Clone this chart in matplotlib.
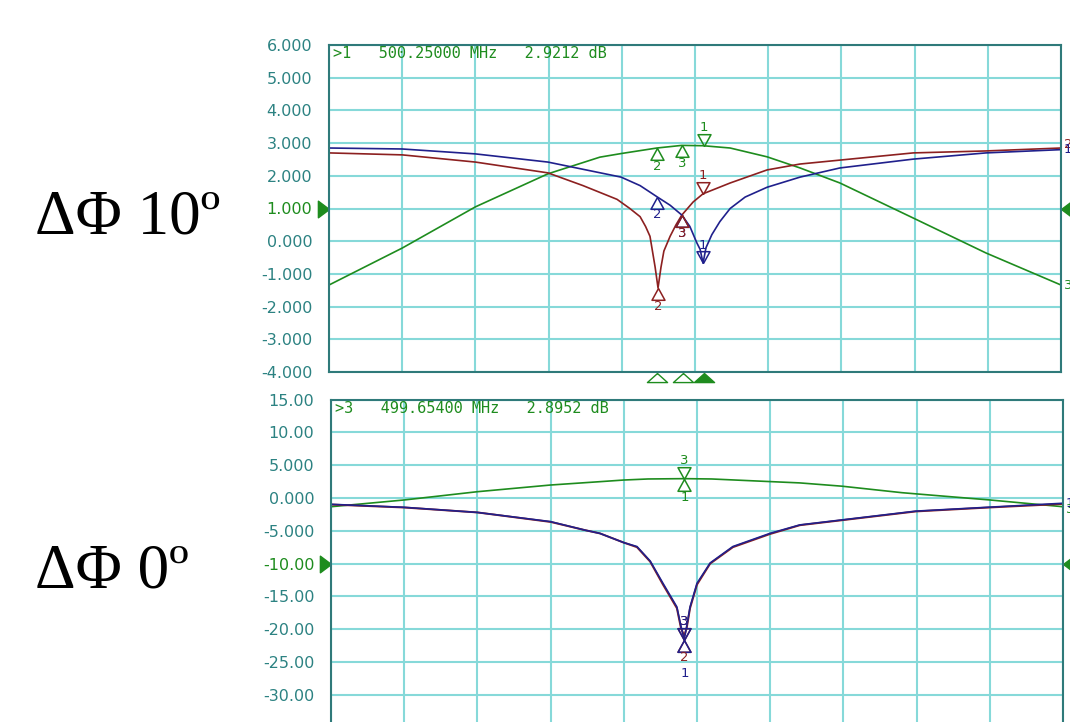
import numpy as np
import matplotlib
matplotlib.use("Agg")
import matplotlib.pyplot as plt
from matplotlib.path import Path

# --- data (MHz, dB) ---

# top screen: phase difference 10 deg
TOP_BLUE_F = [490.0, 492.0, 494.0, 495.98, 497.98, 498.5, 498.96, 499.32, 499.64,
              499.86, 500.05, 500.14, 500.22, 500.30, 500.46, 500.68, 500.96,
              501.37, 501.97, 502.87, 503.96, 505.96, 507.95, 510.0]
TOP_BLUE_DB = [2.85, 2.82, 2.67, 2.42, 1.96, 1.70, 1.36, 1.10, 0.80,
               0.45, -0.05, -0.25, -0.67, -0.20, 0.20, 0.60, 1.00,
               1.35, 1.65, 1.96, 2.24, 2.51, 2.70, 2.80]

TOP_RED_F = [490.0, 492.0, 494.0, 495.98, 496.94, 497.87, 498.22, 498.50, 498.65,
             498.77, 498.91, 498.99, 499.07, 499.15, 499.32, 499.48, 499.64,
             499.95, 500.22, 500.96, 501.97, 502.87, 503.96, 505.96, 507.95, 510.0]
TOP_RED_DB = [2.70, 2.64, 2.42, 2.09, 1.70, 1.28, 1.00, 0.75, 0.45,
              0.15, -0.79, -1.43, -0.80, -0.30, 0.15, 0.50, 0.80,
              1.20, 1.45, 1.78, 2.18, 2.36, 2.48, 2.70, 2.76, 2.85]

TOP_GREEN_F = [490.0, 492.0, 494.0, 495.98, 497.40, 497.98, 498.96, 499.64, 500.22,
               500.96, 501.97, 502.87, 503.96, 505.96, 507.95, 510.0]
TOP_GREEN_DB = [-1.34, -0.21, 1.05, 2.06, 2.57, 2.68, 2.85, 2.93, 2.92,
                2.85, 2.58, 2.24, 1.78, 0.71, -0.36, -1.34]

# bottom screen: phase difference 0 deg
BOT_F = [490.0, 492.0, 494.0, 496.0, 496.94, 497.35, 498.0, 498.36, 498.72, 499.07,
         499.45, 499.56, 499.65, 499.72, 499.81, 500.0, 500.36, 500.98, 501.99,
         502.81, 505.98, 507.98, 510.0]
BOT_BLUE_DB = [-0.96, -1.42, -2.2, -3.6, -4.9, -5.4, -6.8, -7.4, -9.6, -13.0,
               -16.6, -19.5, -21.6, -19.5, -16.6, -13.0, -9.9, -7.4, -5.4,
               -4.1, -2.0, -1.4, -0.8]
BOT_RED_DB = [-1.0, -1.45, -2.2, -3.65, -4.9, -5.4, -6.8, -7.5, -9.7, -13.2,
              -16.8, -19.8, -21.0, -19.8, -16.8, -13.2, -10.0, -7.5, -5.5,
              -4.15, -2.05, -1.45, -0.9]
BOT_GREEN_F = [490.0, 492.0, 494.0, 496.0, 497.35, 498.0, 498.66, 499.65, 500.4,
               501.8, 502.81, 503.96, 505.6, 506.05, 508.0, 510.0]
BOT_GREEN_DB = [-1.33, -0.30, 0.96, 1.98, 2.49, 2.74, 2.90, 2.95, 2.90,
                2.55, 2.30, 1.80, 0.81, 0.60, -0.30, -1.33]

# markers: (trace, label, freq, dB, "up" = triangle below the trace, "down" = above)
TOP_MARKERS = [
    ("green", "1", 500.25, 2.92, "down"),
    ("green", "2", 498.96, 2.85, "up"),
    ("green", "3", 499.64, 2.93, "up"),
    ("blue", "2", 498.96, 1.36, "up"),
    ("blue", "1", 500.22, -0.67, "down"),
    ("blue", "3", 499.64, 0.80, "up"),
    ("red", "1", 500.22, 1.45, "down"),
    ("red", "2", 498.99, -1.43, "up"),
    ("red", "3", 499.64, 0.80, "up"),
]
BOT_MARKERS = [
    ("green", "3", 499.654, 2.90, "down"),
    ("green", "1", 499.654, 2.90, "up"),
    ("red", "3", 499.654, -21.6, "down"),
    ("blue", "3", 499.654, -21.6, "down"),
    ("red", "2", 499.654, -21.6, "up"),
    ("blue", "1", 499.654, -21.6, "up"),
]
TOP_STIMULUS = [498.96, 499.67, 500.25]     # marker positions under the top screen
TOP_READOUT = ">1   500.25000 MHz   2.9212 dB"
BOT_READOUT = ">3   499.65400 MHz   2.8952 dB"
TOP_REF = 1.0
BOT_REF = -10.0
TOP_YTICKS = [6, 5, 4, 3, 2, 1, 0, -1, -2, -3, -4]
BOT_YTICKS = [15, 10, 5, 0, -5, -10, -15, -20, -25, -30, -35]

# --- style ---

GRID = "#86d9d9"
SPINE = "#2f7a7a"
TICK = "#2c8282"
COLORS = {"green": "#1e8c1e", "blue": "#20208c", "red": "#8c2020"}
TRACE_NO = {"blue": "1", "red": "2", "green": "3"}

TRI_UP = Path([(0, 0), (-0.55, -1), (0.55, -1), (0, 0)])     # tip on the trace, body below
TRI_DOWN = Path([(0, 0), (-0.55, 1), (0.55, 1), (0, 0)])     # tip on the trace, body above
STIM = Path([(0, -1), (-10, -10), (10, -10), (0, -1)])       # hangs under the axis
REF_LEFT = Path([(0, 0), (-1, 0.75), (-1, -0.75), (0, 0)])
REF_RIGHT = Path([(0, 0), (1, 0.75), (1, -0.75), (0, 0)])

W, H = 1070, 722
fig = plt.figure(figsize=(W / 100, H / 100), dpi=100)


def fmt_tick(v):
    if abs(v) >= 10:
        return f"{v:.2f}"
    return f"{v:.3f}"


def setup(ax, ylim, yticks, ref):
    ax.set_xlim(490, 510)
    ax.set_ylim(*ylim)
    ax.set_xticks(np.arange(490, 511, 2))
    ax.set_xticklabels([])
    ax.set_yticks(yticks)
    ax.set_yticklabels([fmt_tick(v) for v in yticks])
    ax.tick_params(length=0, pad=12, labelsize=11.5, labelcolor=TICK)
    for lab, v in zip(ax.get_yticklabels(), yticks):
        if v == ref:
            lab.set_color(COLORS["green"])
    ax.grid(True, color=GRID, linewidth=1.5)
    ax.set_axisbelow(True)
    for s in ax.spines.values():
        s.set_color(SPINE)
        s.set_linewidth(1.5)
    tr = ax.get_yaxis_transform()
    ax.plot([0], [ref], transform=tr, marker=REF_LEFT, markersize=16,
            color=COLORS["green"], clip_on=False, linestyle="none")
    ax.plot([1], [ref], transform=tr, marker=REF_RIGHT, markersize=16,
            color=COLORS["green"], clip_on=False, linestyle="none")


def draw_markers(ax, markers):
    for trace, lab, f, v, d in markers:
        c = COLORS[trace]
        m = TRI_UP if d == "up" else TRI_DOWN
        ax.plot([f], [v], marker=m, markersize=17, markerfacecolor="none",
                markeredgecolor=c, markeredgewidth=1.1, linestyle="none",
                clip_on=False, zorder=4)
        dy = -13 if d == "up" else 13
        if trace == "blue" and d == "up" and v < -10:
            dy = -24
        ax.annotate(lab, (f, v), xytext=(0, dy), textcoords="offset points",
                    ha="center", va="center", fontsize=9.5, color=c,
                    annotation_clip=False, zorder=5)


def trace_end_labels(ax, ends):
    for trace, v in ends:
        ax.annotate(TRACE_NO[trace], (510, v), xytext=(2, 0),
                    textcoords="offset points", ha="left", va="center",
                    fontsize=9.5, color=COLORS[trace], annotation_clip=False)


# --- top screen ---
ax1 = fig.add_axes([329 / W, 1 - 372 / H, 732 / W, 327 / H])
setup(ax1, (-4, 6), TOP_YTICKS, TOP_REF)
ax1.plot(TOP_GREEN_F, TOP_GREEN_DB, color=COLORS["green"], lw=1.2)
ax1.plot(TOP_RED_F, TOP_RED_DB, color=COLORS["red"], lw=1.2)
ax1.plot(TOP_BLUE_F, TOP_BLUE_DB, color=COLORS["blue"], lw=1.2)
draw_markers(ax1, TOP_MARKERS)
trace_end_labels(ax1, [("red", TOP_RED_DB[-1] + 0.1), ("blue", TOP_BLUE_DB[-1]),
                       ("green", TOP_GREEN_DB[-1])])
ax1.text(0.006, 0.973, TOP_READOUT, transform=ax1.transAxes, ha="left", va="center",
         fontsize=11, family="DejaVu Sans Mono", color=COLORS["green"])
xt = ax1.get_xaxis_transform()
for i, f in enumerate(TOP_STIMULUS):
    ax1.plot([f], [0], transform=xt, marker=STIM, markersize=14.5,
             markerfacecolor=COLORS["green"] if i == 2 else "white",
             markeredgecolor=COLORS["green"], markeredgewidth=1.0,
             linestyle="none", clip_on=False)

# --- bottom screen ---
ax2 = fig.add_axes([331 / W, 1 - 727.6 / H, 732 / W, 328 / H])
setup(ax2, (-35, 15), BOT_YTICKS, BOT_REF)
ax2.plot(BOT_GREEN_F, BOT_GREEN_DB, color=COLORS["green"], lw=1.2)
ax2.plot(BOT_F, BOT_RED_DB, color=COLORS["red"], lw=1.4)
ax2.plot(BOT_F, BOT_BLUE_DB, color=COLORS["blue"], lw=1.2)
draw_markers(ax2, BOT_MARKERS)
trace_end_labels(ax2, [("blue", BOT_BLUE_DB[-1]), ("green", BOT_GREEN_DB[-1] - 0.4)])
ax2.text(0.006, 0.972, BOT_READOUT, transform=ax2.transAxes, ha="left", va="center",
         fontsize=11, family="DejaVu Sans Mono", color=COLORS["green"])

# --- left captions ---
fig.text(35 / W, 1 - 233 / H, "ΔΦ 10º", fontsize=45.5, family="Liberation Serif",
         ha="left", va="baseline")
fig.text(35 / W, 1 - 588 / H, "ΔΦ 0º", fontsize=45.5, family="Liberation Serif",
         ha="left", va="baseline")

fig.savefig("out.png", dpi=100)
